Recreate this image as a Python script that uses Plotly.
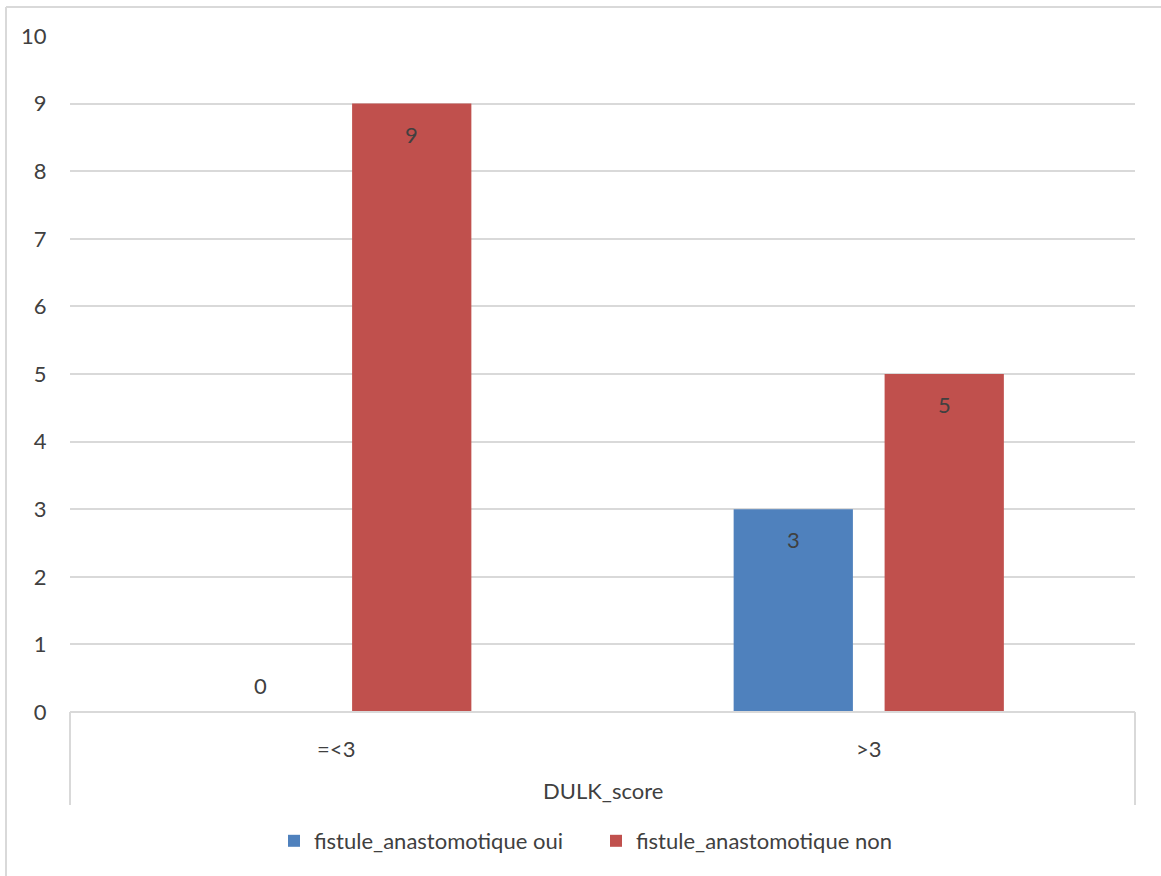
import plotly.graph_objects as go

# DULK score groups and counts of anastomotic fistula
categories = ["=<3", ">3"]
series_names = ["fistule_anastomotique oui", "fistule_anastomotique non"]
oui_values = [0, 3]
non_values = [9, 5]
y_ticks = list(range(0, 11))

colors = ["#4F81BD", "#C0504D"]
text_color = "#404040"
grid_color = "#D9D9D9"
font_family = "Lato, 'Open Sans', Arial, sans-serif"
fs = 22

fig = go.Figure()
for name, vals, col in zip(series_names, [oui_values, non_values], colors):
    fig.add_trace(go.Bar(
        x=categories, y=vals, name=name,
        marker=dict(color=col, line=dict(width=0)),
        hoverinfo="x+y+name",
    ))

# Value labels inside the bar tops (zero sits just above the baseline)
bar_shift = 75.5
for shift, vals in zip([-bar_shift, bar_shift], [oui_values, non_values]):
    for cat, v in zip(categories, vals):
        if v > 0:
            fig.add_annotation(x=cat, y=v, xref="x", yref="y", text=str(v),
                               showarrow=False, xshift=shift, yshift=-15,
                               yanchor="top", font=dict(size=fs, color=text_color, family=font_family))
        else:
            fig.add_annotation(x=cat, y=v, xref="x", yref="y", text=str(v),
                               showarrow=False, xshift=shift, yshift=11,
                               yanchor="bottom", font=dict(size=fs, color=text_color, family=font_family))

# Category box lines below the axis
box_bottom = -(805 - 712) / 676
shapes = [dict(type="line", xref="paper", yref="paper", x0=0, x1=1, y0=0, y1=0,
               line=dict(color=grid_color, width=2))]
for xv in [0, 1]:
    shapes.append(dict(type="line", xref="paper", yref="paper", x0=xv, x1=xv,
                       y0=0, y1=box_bottom, line=dict(color=grid_color, width=2)))
# Chart frame edges (left and top)
shapes.append(dict(type="line", xref="paper", yref="paper",
                   x0=-64 / 1065, x1=-64 / 1065, y0=-0.26, y1=(712 - 7) / 676,
                   line=dict(color=grid_color, width=2)))
shapes.append(dict(type="line", xref="paper", yref="paper",
                   x0=-64 / 1065, x1=1.03, y0=(712 - 7) / 676, y1=(712 - 7) / 676,
                   line=dict(color=grid_color, width=2)))

fig.add_annotation(text="DULK_score", xref="paper", yref="paper", x=0.5,
                   y=-(790 - 712) / 676, yanchor="middle", showarrow=False,
                   font=dict(size=fs, color=text_color, family=font_family))

fig.update_layout(
    width=1161, height=876,
    margin=dict(l=70, r=26, t=36, b=164),
    paper_bgcolor="white", plot_bgcolor="white",
    barmode="group", bargap=0.433, bargroupgap=0.21,
    font=dict(family=font_family, size=fs, color=text_color),
    shapes=shapes,
    showlegend=True,
    legend=dict(orientation="h", x=(274 - 70) / 1065, xanchor="left",
                y=-(841 - 712) / 676, yanchor="middle",
                font=dict(size=fs, color=text_color, family=font_family),
                itemwidth=30, tracegroupgap=0,
                entrywidth=277, entrywidthmode="pixels"),
    xaxis=dict(type="category", showgrid=False, showline=False, zeroline=False,
               ticks="outside", ticklen=18, tickcolor="rgba(0,0,0,0)",
               tickfont=dict(size=fs, color=text_color), range=[-0.5, 1.5]),
    yaxis=dict(range=[0, 10], tickvals=y_ticks, showgrid=True, gridcolor=grid_color,
               gridwidth=2, zeroline=False, showline=False, ticks="outside",
               ticklen=18, tickcolor="rgba(0,0,0,0)",
               tickfont=dict(size=fs, color=text_color)),
)

fig.write_html("out.html")
